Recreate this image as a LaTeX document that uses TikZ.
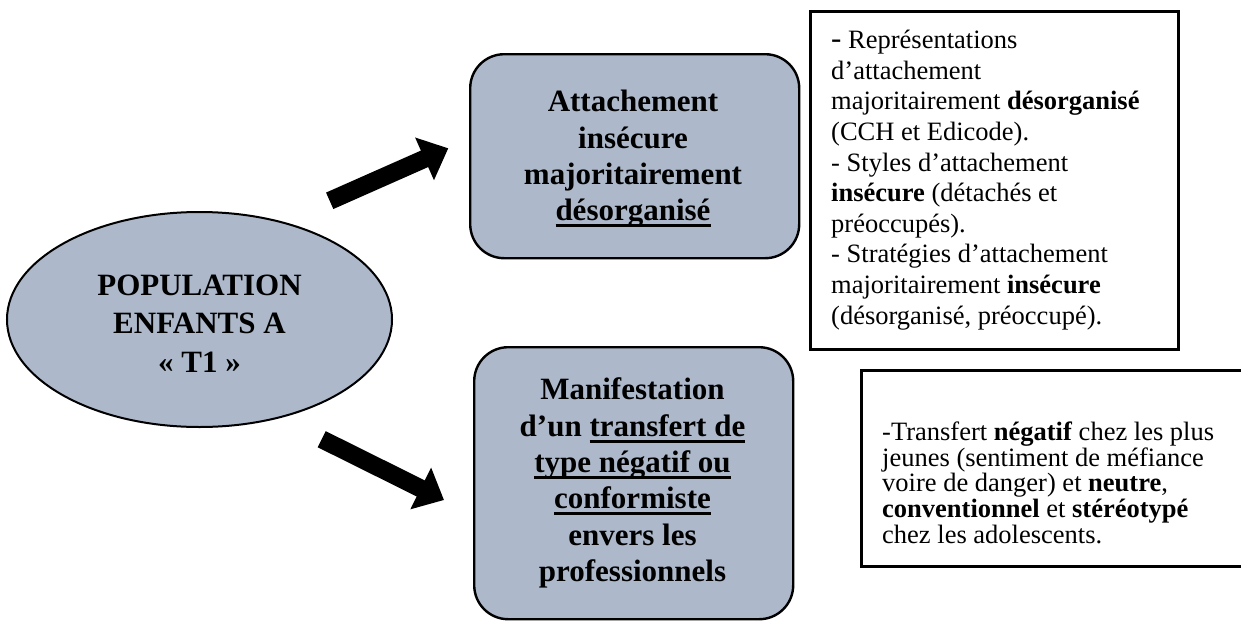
\documentclass[tikz,border=0pt]{standalone}
\usepackage{fontspec}
\setmainfont{Liberation Serif}
\usetikzlibrary{shapes.geometric,arrows.meta}
\definecolor{boxfill}{RGB}{173,185,202}
\newcommand\myul[1]{\setbox0\hbox{#1}\rlap{\rule[-6.5pt]{\wd0}{2.8pt}}\box0}
\tikzset{
  bubble/.style={draw=black, line width=2pt, fill=boxfill, inner sep=0pt},
  roundbox/.style={draw=black, line width=2.4pt, fill=boxfill, rounded corners=34pt, anchor=north west, inner sep=0pt},
  boldtext/.style={font=\fontsize{31}{36.3}\selectfont\bfseries, align=center, inner sep=0pt},
  plainbox/.style={draw=black, line width=2.8pt, anchor=north west, inner sep=0pt},
  notetext/.style={align=left, inner sep=0pt, anchor=north west},
  bigarrow/.style={line width=18pt, -{Triangle[length=26pt,width=45pt]}}
}
\begin{document}
\begin{tikzpicture}[x=1pt,y=-1pt]
\useasboundingbox (0,0) rectangle (1241,621);
% ellipse
\node[bubble, ellipse, minimum width=385pt, minimum height=215pt] (pop) at (199.5,319.5) {};
\node[boldtext, font=\fontsize{31}{38.5}\selectfont\bfseries] (popt) at (199.5,323.5) {POPULATION\\ENFANTS A\\«~T1~»};
% rounded boxes
\node[roundbox, minimum width=329pt, minimum height=204pt] (att) at (469,53) {};
\node[boldtext] (attt) at (633,159) {Attachement\\ insécure\\ majoritairement\\ \myul{désorganisé}};
\node[roundbox, minimum width=319pt, minimum height=272pt] (man) at (473,346) {};
\node[boldtext] (mant) at (632.5,483) {Manifestation\\ d’un \myul{transfert de}\\ \myul{type négatif ou}\\ \myul{conformiste}\\ envers les\\ professionnels};
% plain boxes
\node[plainbox, minimum width=368pt, minimum height=338pt] (n1) at (809,10) {};
\node[notetext, font=\fontsize{26.5}{30.6}\selectfont] (n1t) at (831,30) {{\fontsize{31}{30.6}\selectfont -} Représentations\\ d’attachement\\ majoritairement \textbf{désorganisé}\\ (CCH et Edicode).\\ - Styles d’attachement\\ \textbf{insécure} (détachés et\\ préoccupés).\\ - Stratégies d’attachement\\ majoritairement \textbf{insécure}\\ (désorganisé, préoccupé).};
\node[plainbox, minimum width=400pt, minimum height=196pt] (n2) at (860,369) {};
\node[notetext, font=\fontsize{26.5}{25.8}\selectfont] (n2t) at (882,421.5) {-Transfert \textbf{négatif} chez les plus\\ jeunes (sentiment de méfiance\\ voire de danger) et \textbf{neutre},\\ \textbf{conventionnel} et \textbf{stéréotypé}\\ chez les adolescents.};
% arrows
\coordinate (a1s) at (329.7,200.8);
\coordinate (a1e) at (448.3,148.3);
\coordinate (a2s) at (321.7,439.2);
\coordinate (a2e) at (444,500);
\draw[bigarrow] (a1s) -- (a1e);
\draw[bigarrow] (a2s) -- (a2e);
\end{tikzpicture}
\end{document}
